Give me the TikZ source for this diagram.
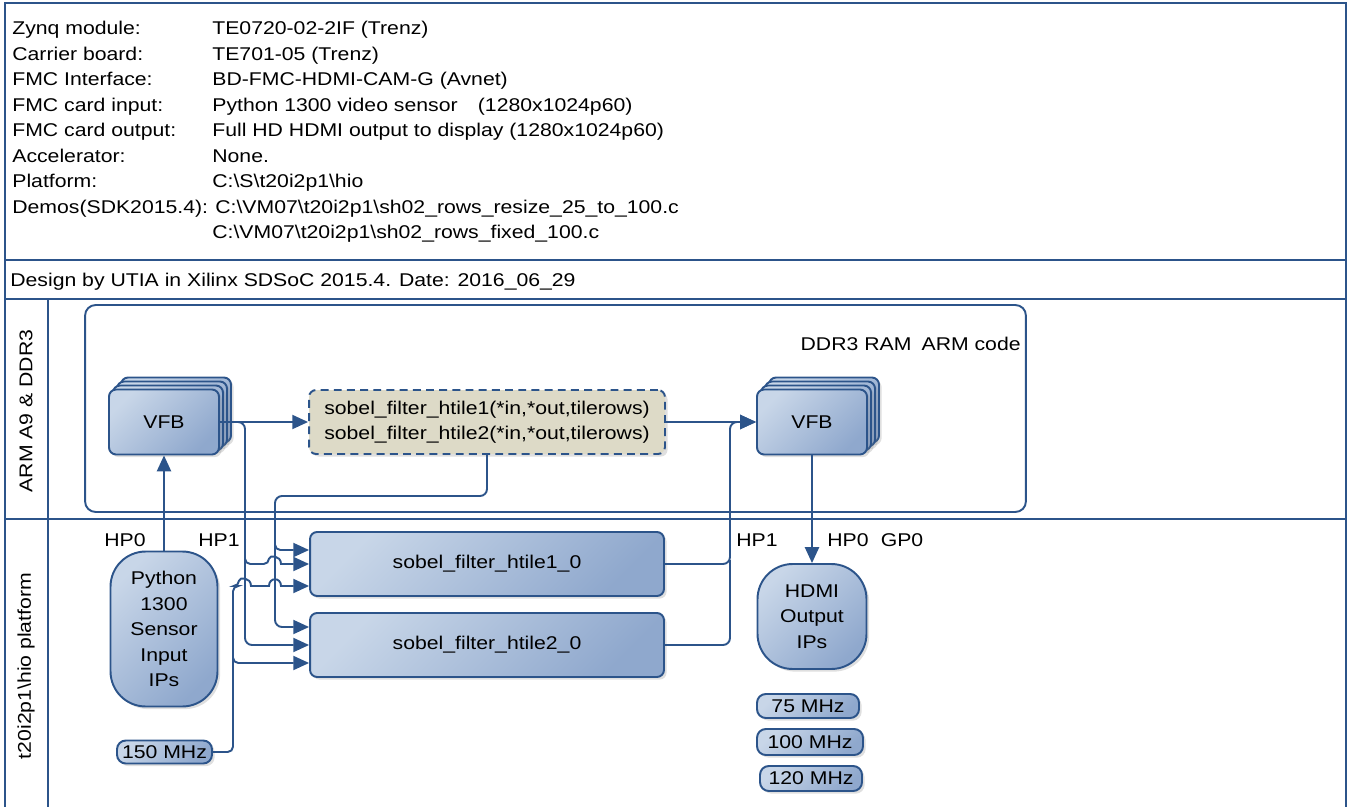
\documentclass[tikz,border=0pt]{standalone}
\usepackage{fontspec}
\setmainfont{Liberation Sans}[FakeStretch=1.15]
\usetikzlibrary{arrows,arrows.meta,shapes,positioning,shadows}

\definecolor{lineblue}{RGB}{44,84,138}
\definecolor{boxlight}{RGB}{200,214,232}
\definecolor{boxdark}{RGB}{143,168,205}
\definecolor{swfill}{RGB}{221,218,199}

\begin{document}
\begin{tikzpicture}[x=0.02cm,y=-0.02cm]
\tikzstyle{every node}+=[inner sep=0pt,font=\fontsize{10.5}{14.5}\selectfont]
\tikzstyle{frame}=[draw=lineblue,line width=1.4pt]
\tikzstyle{wire}=[draw=lineblue,line width=1.1pt]
\tikzstyle{conn}=[wire,-{Triangle[length=9pt,width=8pt]}]
\tikzstyle{blockbox}=[draw=lineblue,line width=1.1pt,rounded corners=4pt,top color=boxlight,bottom color=boxdark,shading angle=45,drop shadow={shadow xshift=1.5pt,shadow yshift=-1.5pt,opacity=0.25}]
\tikzstyle{vfbbox}=[blockbox,minimum width=2.2cm,minimum height=1.3cm]
\tikzstyle{hwbox}=[blockbox,minimum width=7.08cm,minimum height=1.28cm]
\tikzstyle{ipbox}=[blockbox,rounded corners=20pt,align=center]
\tikzstyle{clkbox}=[blockbox,rounded corners=5pt]
\useasboundingbox (0,0) rectangle (1348,807);

\draw[frame] (5,807) -- (5,3) -- (1346,3) -- (1346,807);
\draw[frame] (5,260) -- (1346,260);
\draw[frame] (5,299) -- (1346,299);
\draw[frame] (5,519) -- (1346,519);
\draw[frame] (48,299) -- (48,807);

\node[anchor=base west] (zynqlbl) at (12,35) {Zynq module:};
\node[anchor=base west] (zynqval) at (212,35) {TE0720-02-2IF (Trenz)};
\node[anchor=base west] (carrlbl) at (12,60.5) {Carrier board:};
\node[anchor=base west] (carrval) at (212,60.5) {TE701-05 (Trenz)};
\node[anchor=base west] (fmclbl) at (12,86) {FMC Interface:};
\node[anchor=base west] (fmcval) at (212,86) {BD-FMC-HDMI-CAM-G (Avnet)};
\node[anchor=base west] (inlbl) at (12,111.5) {FMC card input:};
\node[anchor=base west] (inval) at (212,111.5) {Python 1300 video sensor\hspace{1.1em}(1280x1024p60)};
\node[anchor=base west] (outlbl) at (12,137) {FMC card output:};
\node[anchor=base west] (outval) at (212,137) {Full HD HDMI output to display (1280x1024p60)};
\node[anchor=base west] (acclbl) at (12,162.5) {Accelerator:};
\node[anchor=base west] (accval) at (212,162.5) {None.};
\node[anchor=base west] (platlbl) at (12,188) {Platform:};
\node[anchor=base west] (platval) at (212,188) {C:\textbackslash S\textbackslash t20i2p1\textbackslash hio};
\node[anchor=base west] (demolbl) at (12,213.5) {Demos(SDK2015.4):};
\node[anchor=base west] (demoval) at (215,213.5) {C:\textbackslash VM07\textbackslash t20i2p1\textbackslash sh02\_rows\_resize\_25\_to\_100.c};
\node[anchor=base west] (demoval2) at (212,239) {C:\textbackslash VM07\textbackslash t20i2p1\textbackslash sh02\_rows\_fixed\_100.c};
\node[anchor=base west] (design) at (10,287) {Design by UTIA in Xilinx SDSoC 2015.4. Date: 2016\_06\_29};

\node[rotate=90] (armlbl) at (26,411) {ARM A9 \& DDR3};
\node[rotate=90] (hwlbl) at (26,666) {t20i2p1\textbackslash hio platform};

\node[draw=lineblue,line width=1.1pt,rounded corners=6pt,minimum width=18.82cm,minimum height=4.14cm] (ddr) at (555.5,408.5) {};
\node[anchor=east] (ddrlbl) at (1021,344) {DDR3 RAM\hspace{0.55em}ARM code};

\node[vfbbox] at (176,410) {};
\node[vfbbox] at (172,414) {};
\node[vfbbox] at (168,418) {};
\node[vfbbox] (vfbin) at (164,422) {VFB};
\node[vfbbox] at (824,410) {};
\node[vfbbox] at (820,414) {};
\node[vfbbox] at (816,418) {};
\node[vfbbox] (vfbout) at (812,422) {VFB};

\node[draw=lineblue,line width=1.1pt,dash pattern=on 4.5pt off 3pt,rounded corners=4pt,fill=swfill,minimum width=7.12cm,minimum height=1.28cm,align=center,drop shadow={shadow xshift=1.5pt,shadow yshift=-1.5pt,opacity=0.25}] (swbox) at (487,422) {sobel\_filter\_htile1(*in,*out,tilerows)\\sobel\_filter\_htile2(*in,*out,tilerows)};

\node[hwbox] (hw1) at (487,564) {sobel\_filter\_htile1\_0};
\node[hwbox] (hw2) at (487,645) {sobel\_filter\_htile2\_0};

\node[ipbox,minimum width=2.14cm,minimum height=3.1cm] (python) at (164,629) {Python\\1300\\Sensor\\Input\\IPs};
\node[ipbox,minimum width=2.18cm,minimum height=2.1cm] (hdmi) at (812,616.5) {HDMI\\Output\\IPs};

\node[clkbox,minimum width=1.9cm,minimum height=0.46cm] (clk150) at (164.5,752) {150 MHz};
\node[clkbox,minimum width=2.04cm,minimum height=0.48cm] (clk75) at (808,706) {75 MHz};
\node[clkbox,minimum width=2.12cm,minimum height=0.52cm] (clk100) at (810,742) {100 MHz};
\node[clkbox,minimum width=2.04cm,minimum height=0.5cm] (clk120) at (811,778.5) {120 MHz};

\node (hp0a) at (125,540) {HP0};
\node (hp1a) at (219,540) {HP1};
\node (hp1b) at (757,540) {HP1};
\node (hp0b) at (848,540) {HP0};
\node (gp0) at (902,540) {GP0};

\draw[conn] (python.north) -- (vfbin.south);
\draw[conn] (vfbin.east) -- (swbox.west);
\draw[conn] (swbox.east) -- (vfbout.west);
\draw[conn] (vfbout.south) -- (hdmi.north);

\draw[conn,rounded corners=4pt] (vfbin.east) -| (245,540) |- (hw2.west);
\draw[conn] (245,540) [rounded corners=3pt] |- (269,564) [sharp corners] .. controls (269,555) and (281,555) .. (281,564) -- (hw1.west);
\draw[conn,rounded corners=4pt] (swbox.south) |- (275,496) |- ([yshift=0.36cm]hw2.west);
\draw[conn,rounded corners=3pt] (275,530) |- ([yshift=0.28cm]hw1.west);
\draw[conn] (clk150.east) [rounded corners=3pt] -| (233,600) |- (239,586) [sharp corners] .. controls (239,577) and (251,577) .. (251,586) -- (269,586) .. controls (269,577) and (281,577) .. (281,586) -- ([yshift=-0.44cm]hw1.west);
\draw[conn,rounded corners=3pt] (233,640) |- ([yshift=-0.36cm]hw2.west);

\draw[conn,rounded corners=4pt] (hw1.east) -| (730,480) |- (vfbout.west);
\draw[wire,rounded corners=4pt] (hw2.east) -| (730,560);
\end{tikzpicture}
\end{document}
